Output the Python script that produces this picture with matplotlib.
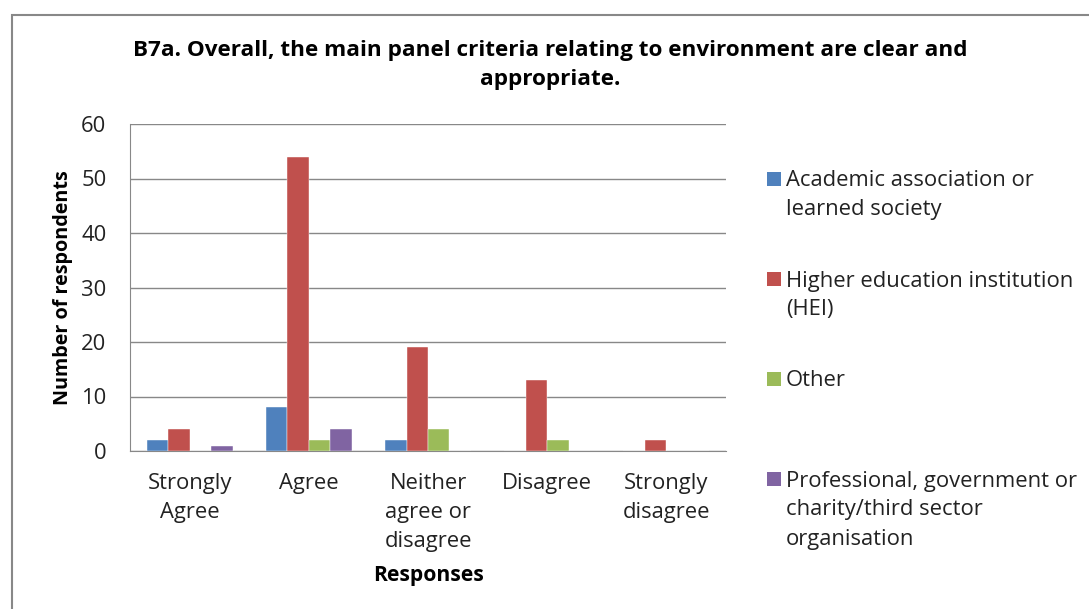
import matplotlib
matplotlib.use("Agg")
import matplotlib.pyplot as plt
import numpy as np
from matplotlib.patches import Rectangle

categories = ["Strongly\nAgree", "Agree", "Neither\nagree or\ndisagree", "Disagree", "Strongly\ndisagree"]
series_names = ["Academic association or\nlearned society",
                "Higher education institution\n(HEI)",
                "Other",
                "Professional, government or\ncharity/third sector\norganisation"]
academic = [2, 8, 2, 0, 0]
hei = [4, 54, 19, 13, 2]
other = [0, 2, 4, 2, 0]
professional = [1, 4, 0, 0, 0]
colors = ["#4F81BD", "#C0504D", "#9BBB59", "#8064A2"]
yticks = [0, 10, 20, 30, 40, 50, 60]

plt.rcParams['font.family'] = ['Open Sans', 'DejaVu Sans']
W, H = 1089, 609
FS = 15.8

fig = plt.figure(figsize=(W / 100, H / 100), dpi=100)
fig.patches.append(Rectangle((12 / W, -0.1), 1.2, (H - 15) / H + 0.1, transform=fig.transFigure,
                             fill=False, edgecolor="#888888", linewidth=1.5))
ax = fig.add_axes([130 / W, 1 - 451 / H, (726 - 130) / W, (451 - 124) / H])

x = np.arange(len(categories))
w = 0.18
data = [academic, hei, other, professional]
for i, (vals, c, name) in enumerate(zip(data, colors, series_names)):
    ax.bar(x + (i - 1.5) * w, vals, w, color=c, label=name, zorder=3,
           edgecolor="white", linewidth=0.3)

ax.set_xlim(-0.5, len(categories) - 0.5)
ax.set_ylim(0, 60)
ax.set_yticks(yticks)
ax.set_xticks(x)
ax.set_xticklabels(categories, fontsize=FS, linespacing=1.5, color="#222222")
ax.tick_params(axis='y', labelsize=FS, length=0, pad=17, labelcolor="#222222")
ax.tick_params(axis='x', length=0, pad=16)
ax.grid(axis='y', color="#888888", linewidth=1, zorder=0)
for s in ["top", "right"]:
    ax.spines[s].set_visible(False)
ax.spines["left"].set_color("#888888")
ax.spines["bottom"].set_color("#888888")

ax.set_xlabel("Responses", fontsize=15.2, fontweight="bold", labelpad=9)
ax.set_ylabel("Number of respondents", fontsize=14.2, fontweight="bold", labelpad=6)

fig.text(550 / W, 1 - 65 / H, "B7a. Overall, the main panel criteria relating to environment are clear and\nappropriate.",
         ha="center", va="center", fontsize=16.2, fontweight="bold", linespacing=1.45)

# legend, drawn from the series names and colours
entry_y = [179, 279, 379, 479]
line_h = 29
for name, c, y0 in zip(series_names, colors, entry_y):
    fig.patches.append(Rectangle((767 / W, 1 - (y0 + 7) / H), 14 / W, 14 / H,
                                 transform=fig.transFigure, facecolor=c, edgecolor="none"))
    for k, line in enumerate(name.split("\n")):
        fig.text(786 / W, 1 - (y0 + 2 + k * line_h) / H, line, ha="left", va="center",
                 fontsize=FS, color="#222222")

fig.savefig("out.png", dpi=100)
